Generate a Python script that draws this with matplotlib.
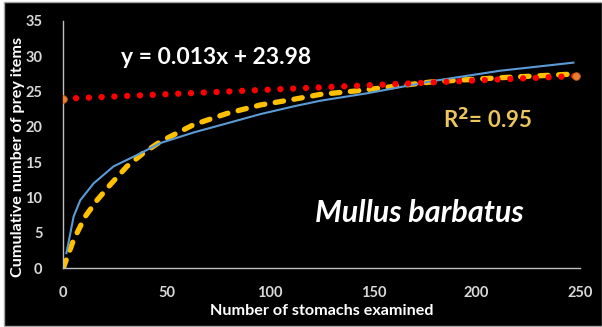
import matplotlib
matplotlib.use("Agg")
import matplotlib.pyplot as plt
from matplotlib.patches import Rectangle

# observed cumulative curve (blue)
obs_x = [1.5, 5, 8.2, 14.7, 24.3, 35.6, 46.9, 63, 79.2, 95.3, 111.4, 124.3,
         146.9, 179, 211.3, 246.8]
obs_y = [2.1, 7.3, 9.6, 12.0, 14.4, 16.0, 17.7, 19.2, 20.5, 21.8, 22.9, 23.7,
         24.75, 26.5, 27.95, 29.1]

# fitted curve (yellow dashed)
fit_x = [0, 5, 10.6, 16.3, 22.7, 30.8, 38.8, 46.9, 63, 79.2, 95.3, 111.4,
         124.3, 142, 179, 211.3, 248]
fit_y = [0, 4.0, 7.3, 9.6, 11.8, 14.4, 16.3, 17.9, 20.3, 21.9, 23.1, 23.9,
         24.6, 25.1, 26.4, 26.96, 27.5]

# linear trend (red dotted): y = 0.013x + 23.98
trend_x = [0, 248]
trend_y = [23.98, 27.2]

xticks = [0, 50, 100, 150, 200, 250]
yticks = [0, 5, 10, 15, 20, 25, 30, 35]

plt.rcParams['font.family'] = ['Lato', 'DejaVu Sans']

W, H = 602, 327
fig = plt.figure(figsize=(W / 100, H / 100), dpi=100, facecolor='white')
fig.patches.append(Rectangle((4 / W, 1.5 / H), 1 - 4 / W, (325 - 1.5) / H,
                             transform=fig.transFigure, facecolor='black',
                             edgecolor='#a6a6a6', linewidth=1, zorder=-10))

ax = fig.add_axes([63.3 / W, (H - 268) / H, (580 - 63.3) / W, (268 - 21) / H])
ax.patch.set_visible(False)
ax.set_zorder(1)

ax.plot(obs_x, obs_y, color='#5b9bd5', lw=1.5, zorder=3)
ax.plot(fit_x, fit_y, color='#ffc000', lw=3.8, linestyle=(0, (1.6, 2.0)),
        dash_capstyle='round', zorder=2)
ax.plot(trend_x, trend_y, color='#ff0000', lw=4.6, linestyle=(0, (0.001, 2.0)),
        dash_capstyle='round', zorder=4)
ax.plot(trend_x, trend_y, linestyle='none', marker='o', markersize=5.5,
        markerfacecolor='#ed7d31', markeredgecolor='#c55a11', markeredgewidth=0.6,
        zorder=5)

ax.set_xlim(0, 250)
ax.set_ylim(0, 35)
ax.set_xticks(xticks)
ax.set_yticks(yticks)
ax.tick_params(length=0, colors='#d9d9d9', labelsize=10.5)
ax.tick_params(axis='x', pad=13)
ax.tick_params(axis='y', pad=15)
for lab in ax.get_xticklabels() + ax.get_yticklabels():
    lab.set_fontweight('bold')

for s in ['top', 'right']:
    ax.spines[s].set_visible(False)
for s in ['left', 'bottom']:
    ax.spines[s].set_color('#bfbfbf')
    ax.spines[s].set_linewidth(1)

ax.set_xlabel('Number of stomachs examined', color='white', fontsize=11.6,
              fontweight='bold')
ax.set_ylabel('Cumulative number of prey items', color='white', fontsize=11.6,
              fontweight='bold')
ax.xaxis.set_label_coords(0.5, -(311 - 268) / 247, transform=ax.transAxes)
ax.xaxis.label.set_va('center')
ax.yaxis.set_label_coords((18 - 63.3) / 516.7, (268 - 157) / 247)
ax.yaxis.label.set_va('center')

fig.text(216.5 / W, 1 - 57 / H, 'y = 0.013x + 23.98', color='white',
         fontsize=16.5, fontweight='bold', ha='center', va='center')
fig.text(488 / W, 1 - 120 / H, 'R$^\\mathbf{2}$= 0.95', color='#ebc55e',
         fontsize=16, fontweight='bold', ha='center', va='center')
fig.text(419 / W, 1 - 213 / H, 'Mullus barbatus', color='white',
         fontsize=22, fontweight='bold', fontstyle='italic',
         ha='center', va='center')

fig.savefig('out.png', dpi=100, facecolor='white')
